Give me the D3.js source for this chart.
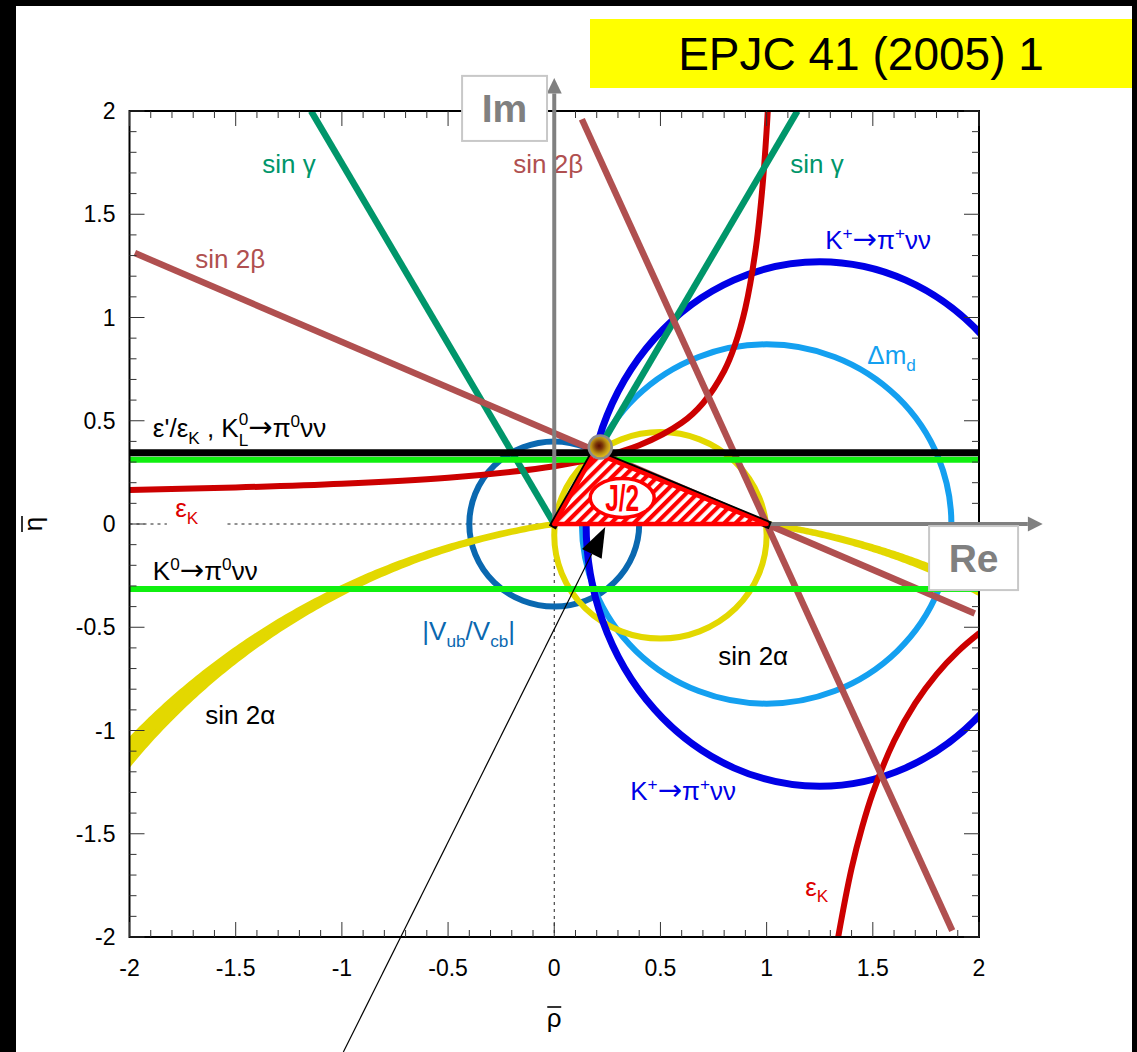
<!DOCTYPE html>
<html>
<head>
<meta charset="utf-8">
<script src="https://cdn.jsdelivr.net/npm/d3@7"></script>
<style>
  html, body { margin: 0; padding: 0; background: #fff; }
  svg { display: block; font-family: "Liberation Sans", Arial, Helvetica, sans-serif; }
</style>
</head>
<body>
<svg id="chart" width="1137" height="1052"></svg>
<script>
// ---------------- data (rho-bar, eta-bar plane) ----------------
const axisTicks  = [-2, -1.5, -1, -0.5, 0, 0.5, 1, 1.5, 2];
const tickLabels = ["-2", "-1.5", "-1", "-0.5", "0", "0.5", "1", "1.5", "2"];

// horizontal constraints: eps'/epsK & K0L->pi0nunu (black), K0->pi0nunu (green pair)
const epsPrimeEta = 0.345;
const kLongEta    = [0.311, -0.315];

// sin(gamma) rays and sin(2beta) lines, as [rho, eta] end points
const sinGammaRays  = [[[0, 0], [-1.145, 2]], [[0.2, 0.345], [1.145, 2]]];
const sin2BetaLines = [[[-1.975, 1.312], [1.98, -0.433]], [[0.13, 1.96], [1.874, -1.969]]];

// epsilon_K hyperbola branches
const epsKUpper = [[-2.0, 0.165], [-1.5, 0.177], [-1.0, 0.195], [-0.5, 0.224], [-0.2, 0.253],
                   [0.0, 0.280], [0.2, 0.319], [0.4, 0.381], [0.6, 0.490], [0.7, 0.585],
                   [0.8, 0.741], [0.85, 0.864], [0.9, 1.046], [0.95, 1.342], [0.98, 1.628],
                   [1.0, 1.906], [1.012, 2.127]];
const epsKLower = [[1.321, -2.1], [1.337, -2.0], [1.40, -1.668], [1.45, -1.467], [1.50, -1.302],
                   [1.60, -1.051], [1.70, -0.868], [1.80, -0.728], [1.90, -0.618], [2.0, -0.530],
                   [2.05, -0.492]];

// circles and the K+ ellipse: centre and radii in (rho, eta) units
const vubCircle     = { rho: 0,    eta: 0,      a: 0.40, b: 0.40 };
const dmdCircle     = { rho: 1,    eta: 0,      a: 0.87, b: 0.87 };
const kplusEllipse  = { rho: 1.25, eta: 0,      a: 1.10, b: 1.27 };
const sin2aCircle   = { rho: 0.5,  eta: -0.055, a: 0.50, b: 0.50 };
// sin(2alpha) far solution: circles through (0,0) and (1,0), centres at (0.5, -depth)
const sin2aDepths   = [3.38, 3.17];

// unitarity triangle and its apex
const triangle  = [[0, 0], [1, 0], [0.19, 0.345]];
const apexBall  = [0.2166, 0.373];
const jLabelPos = [0.32, 0.126];
const pointer   = { from: [-0.993, -2.557], to: [0.24, -0.0145] };

// ---------------- scales ----------------
const W = 1137, H = 1052;
const x = d3.scaleLinear().domain([-2, 2]).range([129.5, 979]);
const y = d3.scaleLinear().domain([-2, 2]).range([937, 111]);

const C = {
  green: "#00966a", brown: "#b05050", red: "#cc0000", redText: "#dd0000",
  blue: "#0000e6", lightBlue: "#14a0f0", steel: "#0a68b0", yellow: "#e3d800",
  lime: "#10f010", gray: "#808080"
};

const svg = d3.select("#chart");
svg.append("rect").attr("width", W).attr("height", H).attr("fill", "#fff");

const defs = svg.append("defs");
defs.append("clipPath").attr("id", "plotClip").append("rect")
  .attr("x", x(-2)).attr("y", y(2))
  .attr("width", x(2) - x(-2)).attr("height", y(-2) - y(2));

const hatch = defs.append("pattern").attr("id", "hatch")
  .attr("patternUnits", "userSpaceOnUse").attr("width", 8).attr("height", 8)
  .attr("patternTransform", "rotate(45)");
hatch.append("rect").attr("width", 8).attr("height", 8).attr("fill", "#fff");
hatch.append("rect").attr("width", 4.2).attr("height", 8).attr("fill", "#ff0000");

const grad = defs.append("radialGradient").attr("id", "ballGrad")
  .attr("cx", "45%").attr("cy", "45%").attr("r", "55%");
[[0, "#5a0c00"], [0.28, "#7a3608"], [0.6, "#b58a12"], [0.85, "#d8b41a"], [1, "#c9a93a"]]
  .forEach(([o, c]) => grad.append("stop").attr("offset", o).attr("stop-color", c));

// ---------------- frame borders and title ----------------
svg.append("rect").attr("x", 0).attr("y", 0).attr("width", W).attr("height", 6).attr("fill", "#000");
svg.append("rect").attr("x", 0).attr("y", 0).attr("width", 16).attr("height", H).attr("fill", "#000");
svg.append("rect").attr("x", 1132).attr("y", 0).attr("width", 5).attr("height", H).attr("fill", "#000");

svg.append("rect").attr("x", 590).attr("y", 19).attr("width", 542).attr("height", 69).attr("fill", "#ffff00");
svg.append("text").attr("x", 861).attr("y", 70).attr("text-anchor", "middle")
  .style("font-size", "46px").attr("fill", "#000").text("EPJC 41 (2005) 1");

// ---------------- constraint curves ----------------
const line = d3.line().x(d => x(d[0])).y(d => y(d[1]));
const smooth = d3.line().x(d => x(d[0])).y(d => y(d[1])).curve(d3.curveCatmullRom.alpha(0.5));
const plot = svg.append("g").attr("clip-path", "url(#plotClip)");

// dotted reference axes
plot.append("line").attr("x1", x(-2)).attr("x2", x(0)).attr("y1", y(0)).attr("y2", y(0))
  .attr("stroke", "#222").attr("stroke-width", 1).attr("stroke-dasharray", "3,4");
plot.append("line").attr("x1", x(0)).attr("x2", x(0)).attr("y1", y(0)).attr("y2", y(-2))
  .attr("stroke", "#222").attr("stroke-width", 1).attr("stroke-dasharray", "3,4");

function ellipse(g, e, color, w) {
  g.append("ellipse")
    .attr("cx", x(e.rho)).attr("cy", y(e.eta))
    .attr("rx", x(e.a) - x(0)).attr("ry", y(0) - y(e.b))
    .attr("fill", "none").attr("stroke", color).attr("stroke-width", w);
}
ellipse(plot, vubCircle, C.steel, 6);
ellipse(plot, dmdCircle, C.lightBlue, 6);
ellipse(plot, sin2aCircle, C.yellow, 6);

// sin(2alpha) band between two circles through (0,0) and (1,0)
function arcPoints(depth, rhoA, rhoB) {
  const R = Math.sqrt(0.25 + depth * depth);
  const t0 = Math.acos((rhoA - 0.5) / R), t1 = Math.acos((rhoB - 0.5) / R);
  const n = 120, pts = [];
  for (let i = 0; i <= n; i++) {
    const t = t0 + (t1 - t0) * i / n;
    pts.push([0.5 + R * Math.cos(t), -depth + R * Math.sin(t)]);
  }
  return pts;
}
function bandPath(rA, rB) {
  const upper = arcPoints(sin2aDepths[0], rA, rB);
  const lower = arcPoints(sin2aDepths[1], rB, rA);
  return line(upper.concat(lower)) + "Z";
}
[[0, -2.05], [2.05, 1]].forEach(([a, b]) => {
  plot.append("path").attr("d", bandPath(a, b))
    .attr("fill", C.yellow).attr("stroke", C.yellow).attr("stroke-width", 6)
    .attr("stroke-linejoin", "round");
});

ellipse(plot, kplusEllipse, C.blue, 7);

[epsKUpper, epsKLower].forEach(pts => {
  plot.append("path").attr("d", smooth(pts)).attr("fill", "none")
    .attr("stroke", C.red).attr("stroke-width", 6);
});

sinGammaRays.forEach(seg => {
  plot.append("path").attr("d", line(seg)).attr("stroke", C.green).attr("stroke-width", 6.5);
});
sin2BetaLines.forEach(seg => {
  plot.append("path").attr("d", line(seg)).attr("stroke", C.brown).attr("stroke-width", 6.5);
});

kLongEta.forEach(e => {
  plot.append("line").attr("x1", x(-2)).attr("x2", x(2)).attr("y1", y(e)).attr("y2", y(e))
    .attr("stroke", C.lime).attr("stroke-width", 6);
});
plot.append("line").attr("x1", x(-2)).attr("x2", x(2))
  .attr("y1", y(epsPrimeEta)).attr("y2", y(epsPrimeEta))
  .attr("stroke", "#000").attr("stroke-width", 7);

// ---------------- frame, ticks, tick labels ----------------
const frame = svg.append("g");
frame.append("rect").attr("x", x(-2)).attr("y", y(2))
  .attr("width", x(2) - x(-2)).attr("height", y(-2) - y(2))
  .attr("fill", "none").attr("stroke", "#000").attr("stroke-width", 2);

const isMajor = v => Math.abs(v * 2 - Math.round(v * 2)) < 1e-6;
x.ticks(40).forEach(v => {
  const L = isMajor(v) ? 15 : 7;
  frame.append("line").attr("x1", x(v)).attr("x2", x(v)).attr("y1", y(-2)).attr("y2", y(-2) - L)
    .attr("stroke", "#333").attr("stroke-width", 1);
  frame.append("line").attr("x1", x(v)).attr("x2", x(v)).attr("y1", y(2)).attr("y2", y(2) + L)
    .attr("stroke", "#333").attr("stroke-width", 1);
});
y.ticks(40).forEach(v => {
  const L = isMajor(v) ? 15 : 7;
  frame.append("line").attr("y1", y(v)).attr("y2", y(v)).attr("x1", x(-2)).attr("x2", x(-2) + L)
    .attr("stroke", "#333").attr("stroke-width", 1);
  frame.append("line").attr("y1", y(v)).attr("y2", y(v)).attr("x1", x(2)).attr("x2", x(2) - L)
    .attr("stroke", "#333").attr("stroke-width", 1);
});
axisTicks.forEach((v, i) => {
  frame.append("text").attr("x", x(v)).attr("y", y(-2) + 39).attr("text-anchor", "middle")
    .style("font-size", "23px").text(tickLabels[i]);
  frame.append("text").attr("x", x(-2) - 14).attr("y", y(v) + 8).attr("text-anchor", "end")
    .style("font-size", "23px").text(tickLabels[i]);
});

// axis titles rho-bar and eta-bar
frame.append("text").attr("x", x(0)).attr("y", 1027).attr("text-anchor", "middle")
  .style("font-size", "26px").text("ρ");
frame.append("line").attr("x1", x(0) - 7).attr("x2", x(0) + 7).attr("y1", 1007).attr("y2", 1007)
  .attr("stroke", "#000").attr("stroke-width", 1.6);
const etaT = frame.append("g").attr("transform", `translate(41.5,${y(0)}) rotate(-90)`);
etaT.append("text").attr("text-anchor", "middle").style("font-size", "26px").text("η");
etaT.append("line").attr("x1", -8).attr("x2", 8).attr("y1", -19.5).attr("y2", -19.5)
  .attr("stroke", "#000").attr("stroke-width", 1.6);

// ---------------- labels ----------------
const labels = svg.append("g");
function rich(px, py, segs, color, size) {
  const t = labels.append("text").attr("x", px).attr("y", py).attr("fill", color)
    .style("font-size", size + "px");
  let cur = 0, lastW = 0;
  segs.forEach(s => {
    let shift = s.sup ? -0.40 * size : (s.sub ? 0.26 * size : 0);
    if (s.high) shift = -0.46 * size;     // superscript sitting over a subscript
    if (s.under) shift = 0.33 * size;     // subscript tucked under a superscript
    const ts = t.append("tspan").attr("dy", shift - cur).text(s.t);
    if (s.sup || s.sub) ts.style("font-size", (0.66 * size) + "px");
    if (s.arrow) ts.style("font-family", "'DejaVu Sans', sans-serif").style("font-size", (1.12 * size) + "px");
    if (s.under) ts.attr("dx", -lastW);
    cur = shift;
    lastW = ts.node().getComputedTextLength();
  });
  return t;
}
const LS = 26;
const ARROW = { t: "→", arrow: 1 };
rich(x(-1.375), y(1.70), [{ t: "sin γ" }], C.green, LS);
rich(x(1.111), y(1.70), [{ t: "sin γ" }], C.green, LS);
rich(x(-0.193), y(1.70), [{ t: "sin 2β" }], C.brown, LS);
rich(x(-1.69), y(1.24), [{ t: "sin 2β" }], C.brown, LS);
rich(x(1.276), y(1.332), [{ t: "K" }, { t: "+", sup: 1 }, ARROW, { t: "π" }, { t: "+", sup: 1 }, { t: "νν" }], C.blue, LS);
rich(x(0.358), y(-1.337), [{ t: "K" }, { t: "+", sup: 1 }, ARROW, { t: "π" }, { t: "+", sup: 1 }, { t: "νν" }], C.blue, LS);
rich(x(1.474), y(0.775), [{ t: "Δm" }, { t: "d", sub: 1 }], C.lightBlue, LS);
rich(x(-1.89), y(0.421), [{ t: "ε'/ε" }, { t: "K", sub: 1 }, { t: " , K" }, { t: "0", sup: 1, high: 1 },
  { t: "L", sub: 1, under: 1 }, ARROW, { t: "π" }, { t: "0", sup: 1 }, { t: "νν" }], "#000", LS);
// white patch behind the left epsilon_K label
labels.append("rect").attr("x", x(-1.824)).attr("y", y(0.126))
  .attr("width", x(-1.551) - x(-1.824)).attr("height", y(-0.04) - y(0.126)).attr("fill", "#fff");
rich(x(-1.785), y(0.034), [{ t: "ε" }, { t: "K", sub: 1 }], C.redText, LS);
rich(x(1.182), y(-1.80), [{ t: "ε" }, { t: "K", sub: 1 }], C.redText, LS);
rich(x(-1.89), y(-0.271), [{ t: "K" }, { t: "0", sup: 1 }, ARROW, { t: "π" }, { t: "0", sup: 1 }, { t: "νν" }], "#000", LS);
rich(x(-0.621), y(-0.562), [{ t: "|V" }, { t: "ub", sub: 1 }, { t: "/V" }, { t: "cb", sub: 1 }, { t: "|" }], C.steel, LS);
rich(x(-1.643), y(-0.969), [{ t: "sin 2α" }], "#000", LS);
rich(x(0.772), y(-0.683), [{ t: "sin 2α" }], "#000", LS);

// ---------------- Re / Im arrows ----------------
const axes = svg.append("g");
axes.append("line").attr("x1", x(0)).attr("x2", x(0)).attr("y1", y(0)).attr("y2", y(2.085))
  .attr("stroke", C.gray).attr("stroke-width", 4);
axes.append("path").attr("fill", C.gray)
  .attr("d", `M${x(0)},${y(2.16)} L${x(0) - 7.5},${y(2.085)} L${x(0) + 7.5},${y(2.085)} Z`);
axes.append("line").attr("x1", x(0)).attr("x2", x(2.23)).attr("y1", y(0)).attr("y2", y(0))
  .attr("stroke", C.gray).attr("stroke-width", 4);
axes.append("path").attr("fill", C.gray)
  .attr("d", `M${x(2.3)},${y(0)} L${x(2.23)},${y(0) - 7.5} L${x(2.23)},${y(0) + 7.5} Z`);

// ---------------- unitarity triangle ----------------
const tri = svg.append("g");
tri.append("path").attr("d", line([triangle[0], triangle[2], triangle[1]]))
  .attr("fill", "none").attr("stroke", "#000").attr("stroke-width", 8)
  .attr("stroke-linecap", "square").attr("stroke-linejoin", "round");
tri.append("path").attr("d", line(triangle) + "Z").attr("fill", "#fff");
tri.append("path").attr("d", line(triangle) + "Z").attr("fill", "url(#hatch)")
  .attr("stroke", "#ff0000").attr("stroke-width", 4.5).attr("stroke-linejoin", "round");

tri.append("ellipse").attr("cx", x(jLabelPos[0])).attr("cy", y(jLabelPos[1]))
  .attr("rx", 32).attr("ry", 19.5).attr("fill", "#fff").attr("stroke", "#ff0000").attr("stroke-width", 3.5);
tri.append("text").attr("x", x(jLabelPos[0])).attr("y", y(jLabelPos[1]) + 13)
  .attr("text-anchor", "middle").attr("fill", "#ff0000").style("font-size", "37px")
  .style("font-weight", "bold").attr("textLength", 34).attr("lengthAdjust", "spacingAndGlyphs")
  .text("J/2");

tri.append("circle").attr("cx", x(apexBall[0])).attr("cy", y(apexBall[1])).attr("r", 11.5)
  .attr("fill", "url(#ballGrad)").attr("stroke", "#8c8c8c").attr("stroke-width", 2.5);

// ---------------- pointer arrow ----------------
{
  const F = [x(pointer.from[0]), y(pointer.from[1])];
  const T = [x(pointer.to[0]), y(pointer.to[1])];
  const len = Math.hypot(T[0] - F[0], T[1] - F[1]);
  const u = [(T[0] - F[0]) / len, (T[1] - F[1]) / len];
  const nrm = [-u[1], u[0]];
  const B = [T[0] - 30 * u[0], T[1] - 30 * u[1]];
  svg.append("line").attr("x1", F[0]).attr("y1", F[1]).attr("x2", B[0]).attr("y2", B[1])
    .attr("stroke", "#000").attr("stroke-width", 1.2);
  svg.append("path").attr("fill", "#000")
    .attr("d", `M${T[0]},${T[1]} L${B[0] + 11 * nrm[0]},${B[1] + 11 * nrm[1]} L${B[0] - 11 * nrm[0]},${B[1] - 11 * nrm[1]} Z`);
}

// ---------------- Im / Re boxes ----------------
function axisBox(bx, by, bw, bh, label) {
  svg.append("rect").attr("x", bx).attr("y", by).attr("width", bw).attr("height", bh)
    .attr("fill", "#fff").attr("stroke", "#c8c8c8").attr("stroke-width", 2);
  svg.append("text").attr("x", bx + bw / 2).attr("y", by + bh / 2 + 14).attr("text-anchor", "middle")
    .attr("fill", C.gray).style("font-size", "39px").style("font-weight", "bold").text(label);
}
axisBox(x(-0.434), y(2.17), x(-0.034) - x(-0.434), y(1.855) - y(2.17), "Im");
axisBox(x(1.765), y(-0.01), x(2.184) - x(1.765), y(-0.32) - y(-0.01), "Re");
</script>
</body>
</html>
